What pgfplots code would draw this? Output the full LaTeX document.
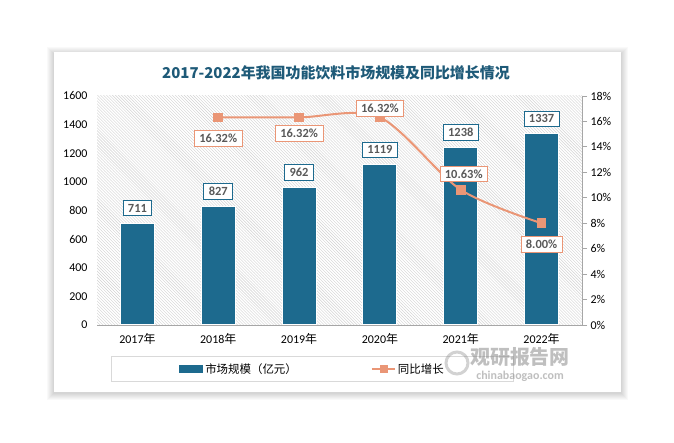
\documentclass[border=0pt]{standalone}
\usepackage{pgfplots}
\pgfplotsset{compat=1.18}
\usepackage{pgfplotstable}
\usetikzlibrary{patterns}
\usepackage{fontspec}
\setmainfont{Carlito}
\newfontfamily\cjk{Noto Sans CJK SC}
\definecolor{barcol}{HTML}{1D6A8E}
\definecolor{linecol}{HTML}{EA9676}
\definecolor{labgray}{HTML}{595959}
\definecolor{titlecol}{HTML}{1E5A78}
\newcommand{\nian}{{\cjk 年}}

\pgfplotstableread{
x y
0 711
1 827
2 962
3 1119
4 1238
5 1337
}\sizedata

\pgfplotstableread{
x y lab dx dy
1 16.32 16.32 0 -21
2 16.32 16.32 0 -16
3 16.32 16.32 0 9
4 10.63 10.63 3 16
5 8.00 8.00 0 -21
}\growthdata

\begin{document}
\begin{tikzpicture}
% page and card
\fill[white] (0bp,0bp) rectangle (674bp,443bp);
\foreach \s in {7,6,5,4,3,2,1} {
  \fill[black, opacity=0.025] (54bp-\s bp,51bp-\s bp-1bp) rectangle (621bp+\s bp,391bp+\s bp-2bp);
}
\fill[white] (54bp,51bp) rectangle (621bp,391bp);
\node[font=\cjk\bfseries\fontsize{15}{18}\selectfont, text=titlecol] at (336bp,370bp) {2017-2022年我国功能饮料市场规模及同比增长情况};

\begin{axis}[
    at={(97bp,118bp)}, anchor=south west,
    scale only axis, width=485bp, height=229bp,
    xmin=-0.5, xmax=5.5, ymin=0, ymax=1600,
    axis y line*=left, axis x line*=bottom,
    y axis line style={draw=none},
    x axis line style={draw=gray!70, line width=0.8pt, -},
    major tick length=0pt,
    ytick={0,200,...,1600},
    xtick={0,...,5},
    xticklabels={2017\nian,2018\nian,2019\nian,2020\nian,2021\nian,2022\nian},
    tick label style={font=\fontsize{12}{14}\selectfont, text=black},
    yticklabel style={xshift=-6bp},
    xticklabel style={yshift=-5bp},
    /pgf/number format/assume math mode=true,
    /pgf/number format/1000 sep={},
    axis background/.style={pattern=north west lines, pattern color=gray!35},
    legend style={at={(0.4443,-0.192)}, anchor=center, draw=gray!30, line width=0.8pt,
      font=\cjk\fontsize{11.5}{14}\selectfont, inner xsep=68bp, inner ysep=5bp,
      legend columns=2,
      /tikz/every even column/.append style={column sep=72bp}},
  ]
\addplot[ybar, bar width=34bp, fill=barcol, draw=white, line width=1bp,
  nodes near coords,
  every node near coord/.append style={anchor=south, yshift=7bp, draw=barcol, fill=white,
    line width=0.8pt, text=labgray, font=\bfseries\fontsize{12.5}{14}\selectfont,
    inner xsep=5bp, inner ysep=3.5bp},
  legend image code/.code={\fill[barcol] (0bp,-3.5bp) rectangle (23bp,3.5bp);}
] table[x=x, y=y] {\sizedata};
\addlegendentry{市场规模（亿元）}
\addlegendimage{legend image code/.code={\draw[linecol, line width=2bp] (0bp,0bp) -- (23bp,0bp); \fill[linecol] (8bp,-3.5bp) rectangle (15bp,3.5bp);}}
\addlegendentry{同比增长}
\end{axis}

\begin{axis}[
    at={(97bp,118bp)}, anchor=south west,
    scale only axis, width=485bp, height=229bp,
    xmin=-0.5, xmax=5.5, ymin=0, ymax=18,
    axis y line*=right, axis x line=none,
    y axis line style={draw=gray!70, line width=0.8pt, -},
    ytick={0,2,...,18},
    ytick style={draw=gray!70, line width=0.8pt},
    tick align=outside, major tick length=5bp,
    yticklabel={\pgfmathprintnumber{\tick}\%},
    tick label style={font=\fontsize{12}{14}\selectfont, text=black},
    /pgf/number format/assume math mode=true,
  ]
\addplot[linecol, line width=2bp, smooth, tension=0.5,
  mark=square*, mark size=3.8bp, mark options={fill=linecol, draw=linecol},
  point meta=explicit symbolic,
  visualization depends on={\thisrow{dx} \as \dx},
  visualization depends on={\thisrow{dy} \as \dy},
  nodes near coords={\pgfplotspointmeta\%},
  every node near coord/.append style={anchor=center, xshift=\dx bp, yshift=\dy bp,
    draw=linecol, fill=white, line width=0.8pt, text=labgray,
    font=\bfseries\fontsize{12.5}{14}\selectfont, inner xsep=5bp, inner ysep=3.5bp},
] table[x=x, y=y, meta=lab] {\growthdata};
\end{axis}

% watermark
\node[font=\cjk\bfseries\fontsize{20}{22}\selectfont, text=gray, opacity=0.5] at (520bp,86bp) {观研报告网};
\node[font=\bfseries\fontsize{12}{14}\selectfont, text=gray, opacity=0.5] at (520bp,67bp) {chinabaogao.com};
\draw[gray, opacity=0.35, line width=3bp] (457bp,80bp) circle (11bp);
\end{tikzpicture}
\end{document}
